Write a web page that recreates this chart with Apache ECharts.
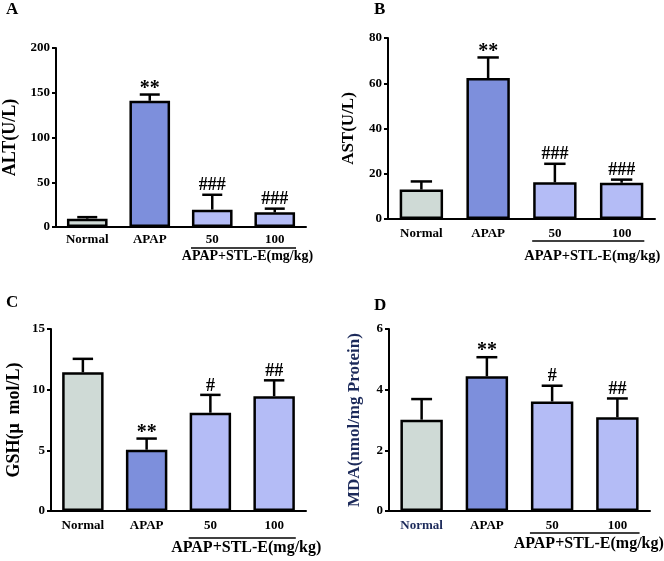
<!DOCTYPE html>
<html>
<head>
<meta charset="utf-8">
<script src="https://cdn.jsdelivr.net/npm/echarts@6/dist/echarts.min.js"></script>
<style>html,body{margin:0;padding:0;background:#fff;}#c{width:664px;height:561px;}</style>
</head>
<body>
<div id="c"></div>
<script>
// ---- data ----
const categories = ['Normal', 'APAP', '50', '100'];
const groupLabel = 'APAP+STL-E(mg/kg)';

const altMean = [9.3, 141, 19.4, 16.4];
const altSd   = [1.7, 7, 16.6, 4.1];
const altSig  = ['', '**', '###', '###'];

const astMean = [13, 62.3, 16.2, 16];
const astSd   = [3.6, 9.1, 8.2, 1.4];
const astSig  = ['', '**', '###', '###'];

const gshMean = [11.43, 5.05, 8.1, 9.46];
const gshSd   = [1.11, 0.92, 1.47, 1.31];
const gshSig  = ['', '**', '#', '##'];

const mdaMean = [3.01, 4.44, 3.61, 3.09];
const mdaSd   = [0.68, 0.63, 0.52, 0.62];
const mdaSig  = ['', '**', '#', '##'];

const barColors = ['#cfdad6', '#7d8fdc', '#b4bcf6', '#b4bcf6'];
const yMax = [200, 80, 15, 6];
const yInterval = [50, 20, 5, 2];
const yNames = ['ALT(U/L)', 'AST(U/L)', 'GSH(\u03bc  mol/L)', 'MDA(nmol/mg Protein)'];
const panelLetters = ['A', 'B', 'C', 'D'];

// ---- layout ----
const FONT = "'Liberation Serif','Times New Roman',serif";
const grids = [
  {left: 49, top: 48, width: 257, height: 179},
  {left: 388, top: 38, width: 267, height: 181},
  {left: 51, top: 329, width: 255, height: 182},
  {left: 389, top: 329, width: 261, height: 182}
];
const nameGaps = [37, 31, 28, 26];
const nameSizes = [18, 17, 18, 17];
const nameColors = ['#000', '#000', '#000', '#1c2a5a'];
const xLabelMargins = [6, 8, 8, 8];
const labelSizes = [14, 14.5, 16, 16];
const bracketOffset = [21, 22, 27, 22];
const textOffset = [29, 37, 37, 33];
const letterPos = [[6, 1], [374, 1], [6, 294], [374, 297]];

const panels = [
  {mean: altMean, sd: altSd, sig: altSig},
  {mean: astMean, sd: astSd, sig: astSig},
  {mean: gshMean, sd: gshSd, sig: gshSig},
  {mean: mdaMean, sd: mdaSd, sig: mdaSig}
];

const option = {
  animation: false,
  backgroundColor: '#fff',
  title: panelLetters.map((t, i) => ({
    text: t, left: letterPos[i][0], top: letterPos[i][1], padding: 0,
    textStyle: {fontFamily: FONT, fontWeight: 'bold', fontSize: 17, color: '#000'}
  })),
  grid: grids,
  xAxis: grids.map((g, i) => ({
    type: 'category', gridIndex: i, data: categories,
    axisLine: {lineStyle: {color: '#000', width: 2}},
    axisTick: {alignWithLabel: true, length: 4, lineStyle: {color: '#000', width: 2}},
    axisLabel: {
      fontFamily: FONT, fontWeight: 'bold', fontSize: 13, margin: xLabelMargins[i],
      color: (v, idx) => (i === 3 && idx === 0) ? '#1c2a5a' : '#000'
    },
    splitLine: {show: false}
  })),
  yAxis: grids.map((g, i) => ({
    type: 'value', gridIndex: i, min: 0, max: yMax[i], interval: yInterval[i],
    name: yNames[i], nameLocation: 'middle', nameGap: nameGaps[i],
    nameTextStyle: {fontFamily: FONT, fontWeight: 'bold', fontSize: nameSizes[i], color: nameColors[i]},
    axisLine: {show: true, lineStyle: {color: '#000', width: 2}},
    axisTick: {show: true, length: 4, lineStyle: {color: '#000', width: 2}},
    axisLabel: {fontFamily: FONT, fontWeight: 'bold', fontSize: 13, color: '#000', margin: 6},
    splitLine: {show: false}
  })),
  series: []
};

panels.forEach((p, i) => {
  option.series.push({
    type: 'bar', xAxisIndex: i, yAxisIndex: i,
    barWidth: '65%',
    data: p.mean.map((m, k) => ({value: m, itemStyle: {color: barColors[k]}})),
    itemStyle: {borderColor: '#000', borderWidth: 2.5},
    z: 2
  });
  option.series.push({
    type: 'custom', xAxisIndex: i, yAxisIndex: i, clip: false, z: 3,
    data: p.mean.map((m, k) => [k, m, m + p.sd[k]]),
    renderItem: (params, api) => {
      const k = api.value(0);
      const base = api.coord([k, api.value(1)]);
      const top = api.coord([k, api.value(2)]);
      const bw = api.size([1, 0])[0];
      const cap = bw * 0.16;
      const children = [
        {type: 'line', shape: {x1: base[0], y1: base[1], x2: top[0], y2: top[1]}, style: {stroke: '#000', lineWidth: 2.5}},
        {type: 'line', shape: {x1: top[0] - cap, y1: top[1], x2: top[0] + cap, y2: top[1]}, style: {stroke: '#000', lineWidth: 2.5}}
      ];
      const s = p.sig[k];
      if (s) {
        const star = s[0] === '*';
        children.push({type: 'text', style: {
          text: s, x: top[0], y: top[1] + (star ? 4 : 0),
          align: 'center', verticalAlign: 'bottom',
          fontFamily: FONT, fontWeight: 'bold', fontSize: star ? 20 : 18, fill: '#000'
        }});
      }
      return {type: 'group', children};
    }
  });
  option.series.push({
    type: 'custom', xAxisIndex: i, yAxisIndex: i, clip: false, z: 3,
    data: [[2, 3]],
    renderItem: (params, api) => {
      const a = api.coord([api.value(0), 0]);
      const b = api.coord([api.value(1), 0]);
      const bw = api.size([1, 0])[0];
      const half = bw * 0.34;
      const y = a[1] + bracketOffset[i];
      return {type: 'group', children: [
        {type: 'line', shape: {x1: a[0] - half, y1: y, x2: b[0] + half, y2: y}, style: {stroke: '#000', lineWidth: 1.5}},
        {type: 'text', style: {
          text: groupLabel, x: (a[0] + b[0]) / 2 + 4, y: a[1] + textOffset[i],
          align: 'center', verticalAlign: 'middle',
          fontFamily: FONT, fontWeight: 'bold', fontSize: labelSizes[i], fill: '#000'
        }}
      ]};
    }
  });
});

const chart = echarts.init(document.getElementById('c'), null, {renderer: 'canvas'});
chart.setOption(option);
</script>
</body>
</html>
